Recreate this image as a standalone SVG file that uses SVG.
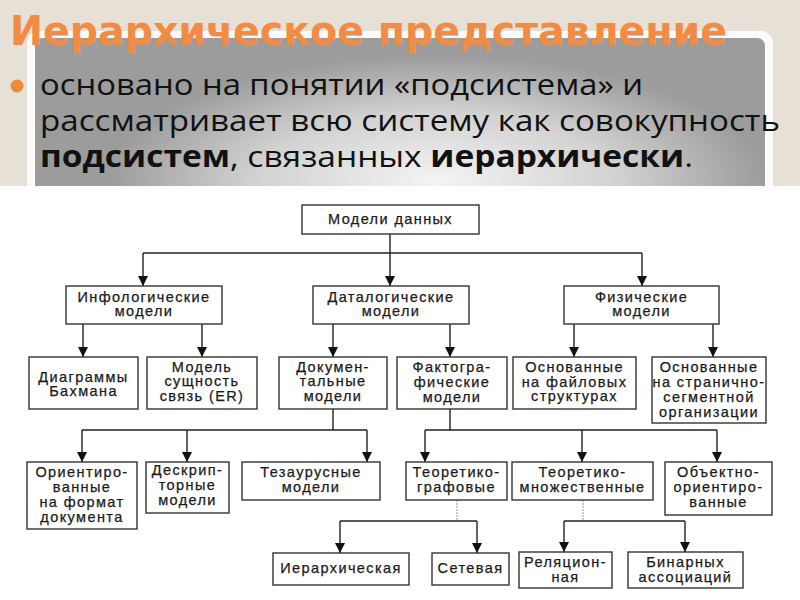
<svg xmlns="http://www.w3.org/2000/svg" width="800" height="600" viewBox="0 0 800 600">
<defs>
<radialGradient id="pg" cx="0.55" cy="0.85" r="0.75" gradientTransform="translate(0.55 0.85) scale(0.6 1) translate(-0.55 -0.85)">
<stop offset="0" stop-color="#f4f4f4"/>
<stop offset="0.55" stop-color="#d2d2d2"/>
<stop offset="1" stop-color="#9c9c9c"/>
</radialGradient>
<marker id="ah" viewBox="0 0 10 10" refX="10" refY="5" markerWidth="10" markerHeight="10" markerUnits="userSpaceOnUse" orient="auto">
<path d="M0,0 L10,5 L0,10 z" fill="#111"/>
</marker>
<style>
.box{fill:#fff;stroke:#333;stroke-width:1.4}
.t{font-family:"Liberation Sans",Arial,sans-serif;font-size:14.5px;letter-spacing:1.4px;fill:#1a1a1a;stroke:#1a1a1a;stroke-width:0.25;text-anchor:middle}
.c{fill:none;stroke:#222;stroke-width:1.4}
.ca{fill:none;stroke:#222;stroke-width:1.4;marker-end:url(#ah)}
.cf{fill:none;stroke:#999;stroke-width:1;stroke-dasharray:2 1}
.body{font-family:"Open Sans","DejaVu Sans",sans-serif;font-size:30px;fill:#111}
</style>
</defs>
<rect x="0" y="0" width="800" height="600" fill="#e6e0d6"/>
<g id="panel">
<rect x="27" y="31" width="746" height="180" rx="12" fill="#fbfbfb"/>
<rect x="35" y="38" width="730" height="170" rx="8" fill="url(#pg)"/>
</g>
<g id="title">
<text x="10" y="45" font-family="'DejaVu Sans',Verdana,sans-serif" font-weight="bold" font-size="40" fill="#f28c45" textLength="717" lengthAdjust="spacingAndGlyphs">Иерархическое представление</text>
</g>
<g id="bullet">
<circle cx="17" cy="86" r="6.5" fill="#ee8a35"/>
<text class="body" x="40" y="95" textLength="603" lengthAdjust="spacingAndGlyphs">основано на понятии «подсистема» и</text>
<text class="body" x="40" y="131" textLength="740" lengthAdjust="spacingAndGlyphs">рассматривает всю систему как совокупность</text>
<text class="body" x="40" y="167" textLength="653" lengthAdjust="spacingAndGlyphs"><tspan font-weight="bold">подсистем</tspan>, связанных <tspan font-weight="bold">иерархически</tspan>.</text>
</g>
<rect x="0" y="186" width="800" height="414" fill="#fff"/>
<g id="connectors">
<path class="ca" d="M390,234 V286"/>
<path class="c" d="M143,253 H642"/>
<path class="ca" d="M143,253 V286"/>
<path class="ca" d="M642,253 V286"/>
<path class="ca" d="M83,324 V357"/>
<path class="ca" d="M202,324 V357"/>
<path class="ca" d="M333,324 V357"/>
<path class="ca" d="M450,324 V357"/>
<path class="ca" d="M574,324 V357"/>
<path class="ca" d="M713,324 V357"/>
<path class="c" d="M333,409 V430 M82,430 H367"/>
<path class="ca" d="M82,430 V462"/>
<path class="ca" d="M187,430 V462"/>
<path class="ca" d="M367,430 V462"/>
<path class="c" d="M450,409 V430 M425,430 H717"/>
<path class="ca" d="M425,430 V462"/>
<path class="ca" d="M582,430 V462"/>
<path class="ca" d="M717,430 V462"/>
<path class="cf" d="M457,500 V521"/>
<path class="c" d="M340,521 H477"/>
<path class="ca" d="M340,521 V553"/>
<path class="ca" d="M477,521 V553"/>
<path class="cf" d="M583,500 V521"/>
<path class="c" d="M564,521 H685"/>
<path class="ca" d="M564,521 V552"/>
<path class="ca" d="M685,521 V552"/>
</g>
<g id="n-root"><rect class="box" x="302" y="205" width="177" height="29"/><text class="t" x="390.5" y="224">Модели данных</text></g>
<g id="n-info"><rect class="box" x="66" y="286" width="156" height="38"/><text class="t" x="144" y="302">Инфологические</text><text class="t" x="144" y="316">модели</text></g>
<g id="n-data"><rect class="box" x="313" y="286" width="156" height="38"/><text class="t" x="391" y="302">Даталогические</text><text class="t" x="391" y="316">модели</text></g>
<g id="n-phys"><rect class="box" x="564" y="286" width="155" height="38"/><text class="t" x="641.5" y="302">Физические</text><text class="t" x="641.5" y="316">модели</text></g>
<g id="n-bach"><rect class="box" x="29" y="357" width="109" height="52"/><text class="t" x="83.5" y="382">Диаграммы</text><text class="t" x="83.5" y="396">Бахмана</text></g>
<g id="n-er"><rect class="box" x="147" y="357" width="110" height="52"/><text class="t" x="202" y="372">Модель</text><text class="t" x="202" y="386">сущность</text><text class="t" x="202" y="401">связь (ER)</text></g>
<g id="n-doc"><rect class="box" x="279" y="357" width="108" height="52"/><text class="t" x="333" y="372">Докумен-</text><text class="t" x="333" y="386">тальные</text><text class="t" x="333" y="401">модели</text></g>
<g id="n-fact"><rect class="box" x="397" y="357" width="110" height="52"/><text class="t" x="452" y="372">Фактогра-</text><text class="t" x="452" y="387">фические</text><text class="t" x="452" y="402">модели</text></g>
<g id="n-file"><rect class="box" x="513" y="357" width="123" height="52"/><text class="t" x="574.5" y="372">Основанные</text><text class="t" x="574.5" y="387">на файловых</text><text class="t" x="574.5" y="401">структурах</text></g>
<g id="n-page"><rect class="box" x="652" y="357" width="114" height="66"/><text class="t" x="709" y="372">Основанные</text><text class="t" x="709" y="387">на странично-</text><text class="t" x="709" y="402">сегментной</text><text class="t" x="709" y="417">организации</text></g>
<g id="n-orient"><rect class="box" x="27" y="462" width="110" height="67"/><text class="t" x="82" y="477">Ориентиро-</text><text class="t" x="82" y="492">ванные</text><text class="t" x="82" y="507">на формат</text><text class="t" x="82" y="522">документа</text></g>
<g id="n-descr"><rect class="box" x="146" y="462" width="83" height="51"/><text class="t" x="187.5" y="475">Дескрип-</text><text class="t" x="187.5" y="490">торные</text><text class="t" x="187.5" y="505">модели</text></g>
<g id="n-thes"><rect class="box" x="242" y="462" width="138" height="38"/><text class="t" x="311" y="477">Тезаурусные</text><text class="t" x="311" y="492">модели</text></g>
<g id="n-graph"><rect class="box" x="406" y="462" width="101" height="38"/><text class="t" x="456.5" y="477">Теоретико-</text><text class="t" x="456.5" y="492">графовые</text></g>
<g id="n-set"><rect class="box" x="512" y="462" width="141" height="38"/><text class="t" x="582.5" y="477">Теоретико-</text><text class="t" x="582.5" y="492">множественные</text></g>
<g id="n-oo"><rect class="box" x="665" y="462" width="107" height="53"/><text class="t" x="718.5" y="477">Объектно-</text><text class="t" x="718.5" y="492">ориентиро-</text><text class="t" x="718.5" y="507">ванные</text></g>
<g id="n-hier"><rect class="box" x="273" y="553" width="136" height="32"/><text class="t" x="341" y="573">Иерархическая</text></g>
<g id="n-net"><rect class="box" x="432" y="553" width="77" height="32"/><text class="t" x="470.5" y="573">Сетевая</text></g>
<g id="n-rel"><rect class="box" x="519" y="552" width="93" height="36"/><text class="t" x="565.5" y="567">Реляцион-</text><text class="t" x="565.5" y="582">ная</text></g>
<g id="n-bin"><rect class="box" x="628" y="552" width="115" height="36"/><text class="t" x="685.5" y="567">Бинарных</text><text class="t" x="685.5" y="582">ассоциаций</text></g>
</svg>
